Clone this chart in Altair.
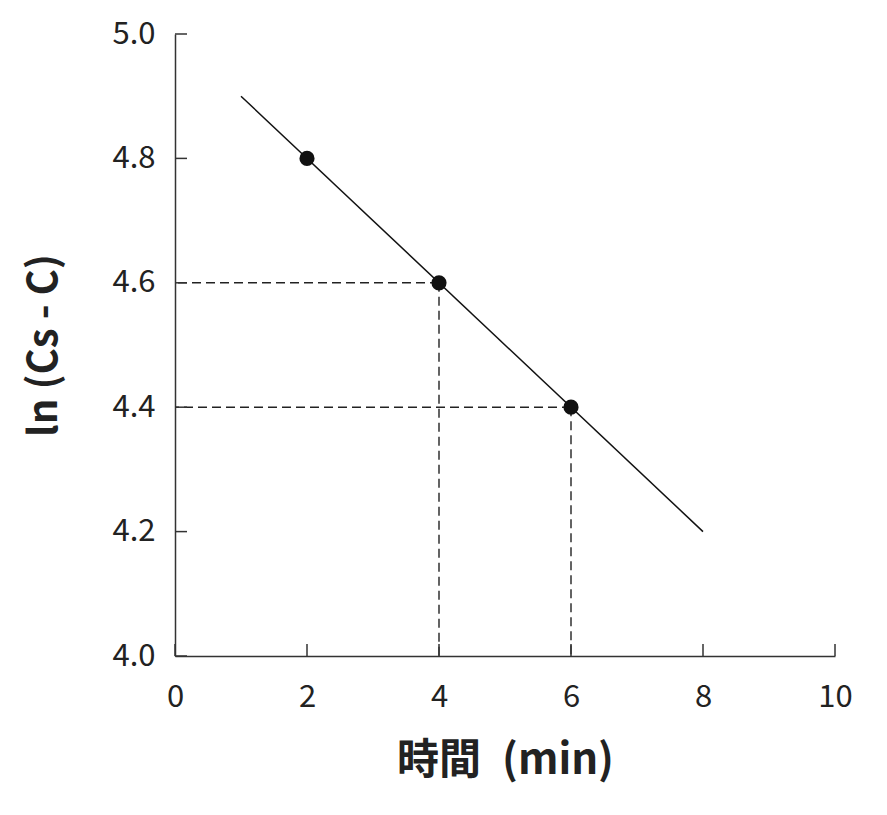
import altair as alt
import pandas as pd

line_x = [1, 8]
line_y = [4.9, 4.2]
pts_x = [2, 4, 6]
pts_y = [4.8, 4.6, 4.4]
guide_x = [4, 6]
guide_y = [4.6, 4.4]
x_ticks = [0, 2, 4, 6, 8, 10]
y_ticks = [4.0, 4.2, 4.4, 4.6, 4.8, 5.0]
x_min, y_min = 0, 4.0

W, H = 660, 622
FONT = "Noto Sans CJK JP"

xs = alt.Scale(domain=[0, 10], nice=False, zero=False)
ys = alt.Scale(domain=[4.0, 5.0], nice=False, zero=False)

line_df = pd.DataFrame({"x": line_x, "y": line_y})
pts_df = pd.DataFrame({"x": pts_x, "y": pts_y})
guide_df = pd.DataFrame({"x": guide_x, "y": guide_y})
xt_df = pd.DataFrame({"x": x_ticks})
yt_df = pd.DataFrame({"y": y_ticks})

xaxis = alt.Axis(values=x_ticks, title="時間\u2002(min)", ticks=False, grid=False, format="d",
                 labelFontSize=31, labelFontWeight=400, labelPadding=26, labelColor="#222",
                 labelFont=FONT,
                 titleFontSize=42, titleFont=FONT, titleFontWeight="bold", titleColor="#222",
                 titlePadding=28, domainColor="#333", domainWidth=1.5, labelFlush=False)
yaxis = alt.Axis(values=y_ticks, title="ln (Cs - C)", ticks=False, grid=False, format=".1f",
                 labelFontSize=31, labelFontWeight=400, labelPadding=20, labelColor="#222",
                 labelFont=FONT,
                 titleFontSize=40, titleFont=FONT, titleFontWeight="bold", titleColor="#222",
                 titlePadding=47, domainColor="#333", domainWidth=1.5, labelFlush=False)

base_line = alt.Chart(line_df).mark_line(color="#111", strokeWidth=1.5).encode(
    x=alt.X("x:Q", scale=xs, axis=xaxis),
    y=alt.Y("y:Q", scale=ys, axis=yaxis),
)

h_dash = alt.Chart(guide_df).mark_rule(color="#222", strokeWidth=1.4, strokeDash=[9, 5]).encode(
    x=alt.X("x:Q", scale=xs), x2=alt.X2(datum=x_min), y=alt.Y("y:Q", scale=ys)
)
v_dash = alt.Chart(guide_df).mark_rule(color="#222", strokeWidth=1.4, strokeDash=[9, 5]).encode(
    x=alt.X("x:Q", scale=xs), y=alt.Y("y:Q", scale=ys), y2=alt.Y2(datum=y_min)
)

pts = alt.Chart(pts_df).mark_circle(color="#111", opacity=1, size=230).encode(
    x=alt.X("x:Q", scale=xs), y=alt.Y("y:Q", scale=ys)
)

xt = alt.Chart(xt_df).mark_rule(color="#333", strokeWidth=1.5).encode(
    x=alt.X("x:Q", scale=xs), y=alt.value(H), y2=alt.value(H - 12)
)
yt = alt.Chart(yt_df).mark_rule(color="#333", strokeWidth=1.5).encode(
    y=alt.Y("y:Q", scale=ys), x=alt.value(0), x2=alt.value(12)
)

chart = alt.layer(base_line, h_dash, v_dash, pts, xt, yt).properties(
    width=W, height=H,
    autosize=alt.AutoSizeParams(type="none"),
    padding={"left": 167, "top": 26, "right": 40, "bottom": 150},
    background="white",
).configure_view(stroke=None)

chart.save("out.html", embed_options={"renderer": "svg", "actions": False})
